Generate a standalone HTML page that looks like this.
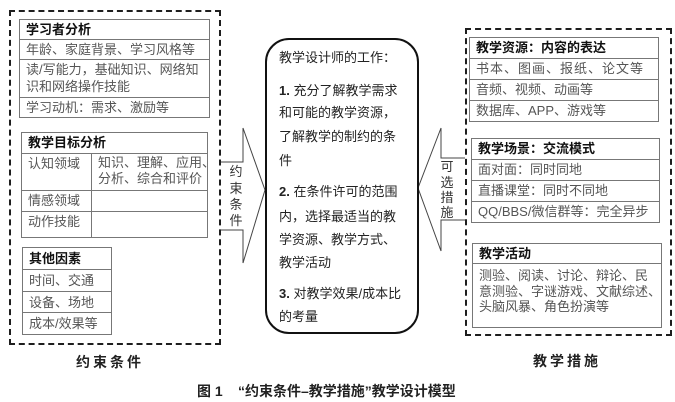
<!DOCTYPE html>
<html><head><meta charset="utf-8">
<style>
*{margin:0;padding:0;box-sizing:border-box}
html,body{width:675px;height:402px;background:#fff;overflow:hidden}
body{position:relative;font-family:"Liberation Sans","Noto Sans CJK SC",sans-serif;font-size:13px;color:#555}
.a{position:absolute}
.dash{position:absolute;border:2px dashed #1e1e1e}
.t{position:absolute;border:1.5px solid #777;background:#fff}
.r{position:absolute;left:0;right:0;border-top:1.5px solid #777;padding-left:6px;white-space:nowrap;overflow:hidden;line-height:19px}
.r.first{border-top:none}
.h{color:#111;font-weight:bold}
.c{position:absolute;left:279px;white-space:nowrap;color:#222;line-height:20px;font-size:13px}
.v{position:absolute;width:16px;text-align:center;color:#333;font-size:13px;line-height:16px}
</style></head><body>

<svg class="a" style="left:0;top:0" width="675" height="402">
  <polyline points="219,162 243,162 243,128 265,190 243,263 243,230 219,230" fill="#fff" stroke="#444" stroke-width="1"/>
  <polyline points="465,158 441,158 441,128 418,188 441,251 441,220 465,220" fill="#fff" stroke="#444" stroke-width="1"/>
</svg>

<!-- left dashed -->
<div class="dash" style="left:9px;top:10px;width:212px;height:335px"></div>

<div class="t" style="left:19px;top:19px;width:191px;height:99px">
  <div class="r first h" style="top:0;height:20px;line-height:19px">学习者分析</div>
  <div class="r" style="top:19px;height:21px">年龄、家庭背景、学习风格等</div>
  <div class="r" style="top:39px;height:39px;line-height:17px;padding-top:1px">读/写能力，基础知识、网络知<br>识和网络操作技能</div>
  <div class="r" style="top:77px;height:21px">学习动机：需求、激励等</div>
</div>

<div class="t" style="left:21px;top:132px;width:187px;height:106px">
  <div class="r first h" style="top:0;height:21px;line-height:20px">教学目标分析</div>
  <div class="r" style="top:20px;height:37px;line-height:16px;padding-top:2px">认知领域</div>
  <div class="a" style="left:76px;top:22px;line-height:16px;white-space:nowrap;overflow:hidden;width:110px">知识、理解、应用、<br>分析、综合和评价</div>
  <div class="r" style="top:57px;height:21px">情感领域</div>
  <div class="r" style="top:78px;height:26px">动作技能</div>
  <div class="a" style="left:69px;top:20px;bottom:0;border-left:1.5px solid #777"></div>
</div>

<div class="t" style="left:22px;top:247px;width:90px;height:88px">
  <div class="r first h" style="top:0;height:22px;line-height:21px">其他因素</div>
  <div class="r" style="top:21px;height:22px;line-height:21px">时间、交通</div>
  <div class="r" style="top:43px;height:22px;line-height:21px">设备、场地</div>
  <div class="r" style="top:64px;height:22px;line-height:21px">成本/效果等</div>
</div>

<div class="a" style="left:60px;top:352px;width:100px;text-align:center;font-size:14px;color:#222;letter-spacing:3px;font-weight:bold">约束条件</div>

<!-- center -->
<div class="a" style="left:265px;top:38px;width:154px;height:296px;border:2px solid #111;border-radius:24px;background:#fff"></div>
<div class="c" style="top:48px">教学设计师的工作：</div>
<div class="c" style="top:81px"><b>1.</b> 充分了解教学需求</div>
<div class="c" style="top:103px">和可能的教学资源，</div>
<div class="c" style="top:127px">了解教学的制约的条</div>
<div class="c" style="top:151px">件</div>
<div class="c" style="top:182px"><b>2.</b> 在条件许可的范围</div>
<div class="c" style="top:207px">内，选择最适当的教</div>
<div class="c" style="top:230px">学资源、教学方式、</div>
<div class="c" style="top:253px">教学活动</div>
<div class="c" style="top:284px"><b>3.</b> 对教学效果/成本比</div>
<div class="c" style="top:307px">的考量</div>

<!-- arrow labels -->
<div class="v" style="left:228px;top:164px">约</div>
<div class="v" style="left:228px;top:181px">束</div>
<div class="v" style="left:228px;top:197px">条</div>
<div class="v" style="left:228px;top:213px">件</div>
<div class="v" style="left:439px;top:159px">可</div>
<div class="v" style="left:439px;top:175px">选</div>
<div class="v" style="left:439px;top:190px">措</div>
<div class="v" style="left:439px;top:205px">施</div>

<!-- right dashed -->
<div class="dash" style="left:465px;top:28px;width:207px;height:308px"></div>

<div class="t" style="left:469px;top:37px;width:190px;height:85px">
  <div class="r first h" style="top:0;height:21px;line-height:20px">教学资源：内容的表达</div>
  <div class="r" style="top:20px;height:21px;letter-spacing:1px">书本、图画、报纸、论文等</div>
  <div class="r" style="top:41px;height:21px">音频、视频、动画等</div>
  <div class="r" style="top:62px;height:21px">数据库、APP、游戏等</div>
</div>

<div class="t" style="left:471px;top:138px;width:189px;height:85px">
  <div class="r first h" style="top:0;height:21px;line-height:20px">教学场景：交流模式</div>
  <div class="r" style="top:20px;height:21px">面对面：同时同地</div>
  <div class="r" style="top:41px;height:21px">直播课堂：同时不同地</div>
  <div class="r" style="top:62px;height:21px">QQ/BBS/微信群等：完全异步</div>
</div>

<div class="t" style="left:472px;top:243px;width:190px;height:85px">
  <div class="r first h" style="top:0;height:20px;line-height:19px">教学活动</div>
  <div class="r" style="top:19px;height:64px;line-height:15.5px;padding-top:4px">测验、阅读、讨论、辩论、民<br>意测验、字谜游戏、文献综述、<br>头脑风暴、角色扮演等</div>
</div>

<div class="a" style="left:517px;top:351px;width:100px;text-align:center;font-size:14px;color:#222;letter-spacing:3px;font-weight:bold">教学措施</div>

<!-- caption -->
<div class="a" style="left:197px;top:381px;font-size:14px;font-weight:bold;color:#222;white-space:nowrap">图 1</div>
<div class="a" style="left:238px;top:381px;font-size:14px;font-weight:bold;color:#222;white-space:nowrap">“约束条件–教学措施”教学设计模型</div>

</body></html>
